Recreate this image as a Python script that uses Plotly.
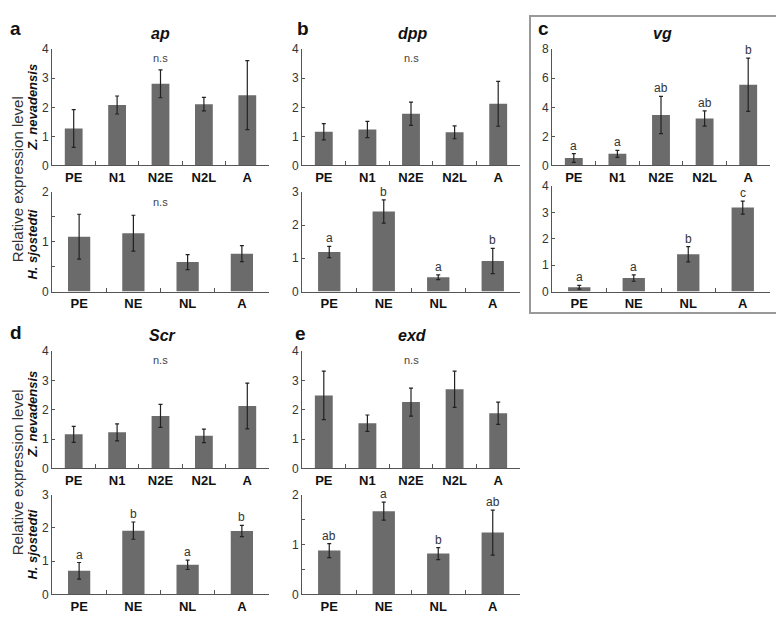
import plotly.graph_objects as go

# page offset from default body margin
OX, OY = 8, 8
W, H = 784 - OX, 619 - OY

# ---------------- data ----------------
cats_z = ["PE", "N1", "N2E", "N2L", "A"]
cats_h = ["PE", "NE", "NL", "A"]

ap_z = [1.27, 2.08, 2.81, 2.11, 2.42]
ap_z_err = [0.65, 0.31, 0.48, 0.23, 1.19]
ap_h = [1.10, 1.17, 0.59, 0.76]
ap_h_err = [0.45, 0.36, 0.15, 0.16]

dpp_z = [1.16, 1.24, 1.78, 1.14, 2.12]
dpp_z_err = [0.28, 0.28, 0.40, 0.22, 0.77]
dpp_h = [1.19, 2.41, 0.43, 0.92]
dpp_h_err = [0.17, 0.35, 0.07, 0.38]
dpp_h_sig = ["a", "b", "a", "b"]

vg_z = [0.51, 0.80, 3.47, 3.23, 5.55]
vg_z_err = [0.30, 0.24, 1.28, 0.52, 1.83]
vg_z_sig = ["a", "a", "ab", "ab", "b"]
vg_h = [0.16, 0.51, 1.41, 3.18]
vg_h_err = [0.07, 0.12, 0.29, 0.25]
vg_h_sig = ["a", "a", "b", "c"]

scr_z = [1.16, 1.23, 1.79, 1.11, 2.13]
scr_z_err = [0.27, 0.29, 0.39, 0.23, 0.78]
scr_h = [0.71, 1.92, 0.89, 1.91]
scr_h_err = [0.25, 0.26, 0.14, 0.17]
scr_h_sig = ["a", "b", "a", "b"]

exd_z = [2.49, 1.54, 2.26, 2.70, 1.88]
exd_z_err = [0.83, 0.28, 0.48, 0.62, 0.38]
exd_h = [0.88, 1.67, 0.82, 1.24]
exd_h_err = [0.14, 0.18, 0.12, 0.45]
exd_h_sig = ["ab", "a", "b", "ab"]

# ---------------- layout helpers ----------------
FONT = "Liberation Sans, Arial, sans-serif"
BAR = "#6b6b6b"
AX = "#555555"


def px_x(p):
    return (p - OX) / W


def px_y(p):
    return 1 - (p - OY) / H


def xd(p0, p1):
    return [px_x(p0), px_x(p1)]


def yd(top, bottom):
    return [px_y(bottom), px_y(top)]


# panel specs: (cats, values, errs, sig, xpx, ypx, yrange, dtick, minor, ns_y)
panels = [
    (cats_z, ap_z, ap_z_err, None, (52, 269), (43, 162), [0, 4], 1, None, 3.7),
    (cats_h, ap_h, ap_h_err, None, (52, 269), (189, 291), [0, 2], 1, 0.5, 1.8),
    (cats_z, dpp_z, dpp_z_err, None, (302, 520), (43, 162), [0, 4], 1, None, 3.7),
    (cats_h, dpp_h, dpp_h_err, dpp_h_sig, (302, 520), (189, 291), [0, 3], 1, None, None),
    (cats_z, vg_z, vg_z_err, vg_z_sig, (552, 770), (43, 162), [0, 8], 2, None, None),
    (cats_h, vg_h, vg_h_err, vg_h_sig, (552, 770), (183, 291), [0, 4], 1, None, None),
    (cats_z, scr_z, scr_z_err, None, (52, 269), (352, 472), [0, 4], 1, None, 3.7),
    (cats_h, scr_h, scr_h_err, scr_h_sig, (52, 269), (499, 601), [0, 3], 1, None, None),
    (cats_z, exd_z, exd_z_err, None, (302, 520), (352, 472), [0, 4], 1, None, 3.7),
    (cats_h, exd_h, exd_h_err, exd_h_sig, (302, 520), (499, 601), [0, 2], 1, 0.5, None),
]

fig = go.Figure()
layout = dict(
    width=W, height=H,
    margin=dict(l=0, r=0, t=0, b=0),
    paper_bgcolor="white", plot_bgcolor="white",
    showlegend=False, bargap=0.59,
    font=dict(family=FONT, color="#333333"),
)
annotations = []

for i, (cats, vals, errs, sig, xpx, ypx, yr, dt, minor, ns_y) in enumerate(panels, start=1):
    xa = "x" if i == 1 else f"x{i}"
    ya = "y" if i == 1 else f"y{i}"
    fig.add_trace(go.Bar(
        x=cats, y=vals, xaxis=xa, yaxis=ya,
        marker=dict(color=BAR, line=dict(width=0)),
        error_y=dict(type="data", array=errs, color="#222222", thickness=1.2, width=2),
    ))
    layout["xaxis" if i == 1 else f"xaxis{i}"] = dict(
        domain=xd(*xpx), anchor=ya, type="category",
        showline=True, linecolor=AX, linewidth=1,
        ticks="inside", ticklen=4, tickcolor=AX, tickson="boundaries",
        tickfont=dict(family=FONT, size=13, color="#111111", weight="bold"),
        showgrid=False, zeroline=False, fixedrange=True,
    )
    yax = dict(
        domain=yd(*ypx), anchor=xa, range=yr, dtick=dt, tick0=0,
        showline=True, linecolor=AX, linewidth=1,
        ticks="inside", ticklen=3, tickcolor=AX,
        tickfont=dict(family=FONT, size=12, color="#333333"),
        showgrid=False, zeroline=False, fixedrange=True,
    )
    if minor:
        yax["minor"] = dict(dtick=minor, ticks="inside", ticklen=3, tickcolor=AX, showgrid=False)
    layout["yaxis" if i == 1 else f"yaxis{i}"] = yax

    if ns_y is not None:
        annotations.append(dict(
            text="n.s", x=0.5, xref=f"{xa} domain", y=ns_y, yref=ya,
            showarrow=False, font=dict(family=FONT, size=11, color="#444444"),
        ))
    if sig:
        for c, v, e, s in zip(cats, vals, errs, sig):
            annotations.append(dict(
                text=s, x=c, xref=xa, y=v + e, yref=ya, yanchor="bottom",
                showarrow=False, yshift=-1,
                font=dict(family=FONT, size=12, color="#333333"),
            ))

# panel letters (left-anchored)
for letter, px, py in [("a", 8, 22), ("b", 295, 22), ("c", 536, 22), ("d", 8, 333), ("e", 293, 334)]:
    annotations.append(dict(
        text=f"<b>{letter}</b>", x=px_x(px), y=px_y(py), xref="paper", yref="paper",
        showarrow=False, xanchor="left", yanchor="middle",
        font=dict(family=FONT, size=19, color="#111111"),
    ))

# gene titles
for gene, px, py in [("ap", 160, 27), ("dpp", 413, 27), ("vg", 662, 27), ("Scr", 162, 336), ("exd", 412, 336)]:
    annotations.append(dict(
        text=f"<b><i>{gene}</i></b>", x=px_x(px), y=px_y(py), xref="paper", yref="paper",
        showarrow=False, xanchor="center", yanchor="middle",
        font=dict(family=FONT, size=16, color="#111111"),
    ))

# y titles
for py in [176, 476]:
    annotations.append(dict(
        text="Relative expression level", x=px_x(17), y=px_y(py), xref="paper", yref="paper",
        showarrow=False, textangle=-90, xanchor="center", yanchor="middle",
        font=dict(family=FONT, size=15, color="#333333"),
    ))
for sp, py in [("Z. nevadensis", 102), ("H. sjostedti", 243), ("Z. nevadensis", 416), ("H. sjostedti", 550)]:
    annotations.append(dict(
        text=f"<b><i>{sp}</i></b>", x=px_x(33), y=px_y(py), xref="paper", yref="paper",
        showarrow=False, textangle=-90, xanchor="center", yanchor="middle",
        font=dict(family=FONT, size=13, color="#111111"),
    ))

layout["annotations"] = annotations
layout["shapes"] = [dict(
    type="rect", xref="paper", yref="paper",
    x0=px_x(530), x1=px_x(779), y0=px_y(313), y1=px_y(9),
    line=dict(color="#999999", width=2), fillcolor="rgba(0,0,0,0)",
)]

fig.update_layout(**layout)
fig.write_html("out.html")
